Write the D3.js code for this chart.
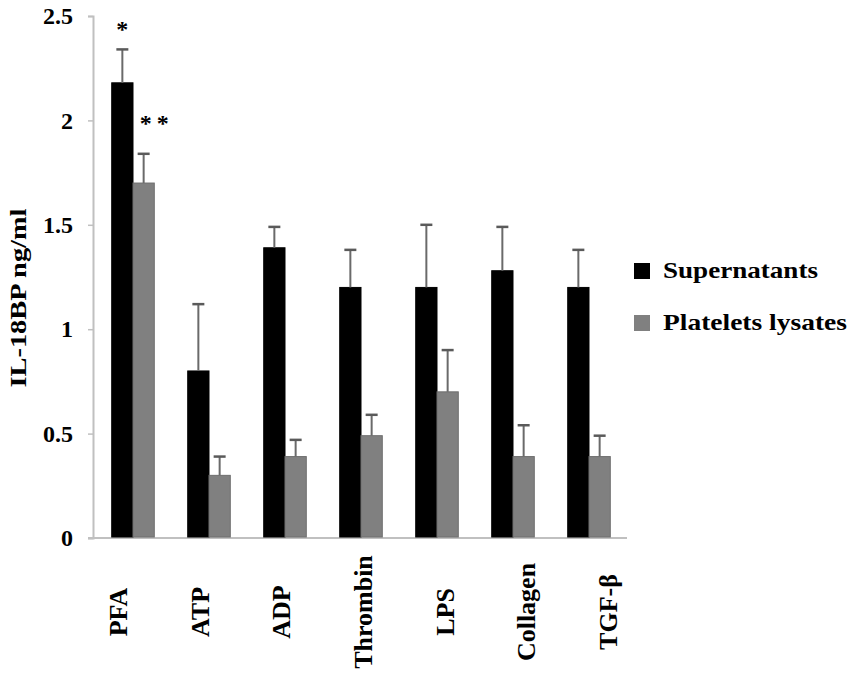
<!DOCTYPE html>
<html>
<head>
<meta charset="utf-8">
<script src="https://cdn.jsdelivr.net/npm/d3@7"></script>
<style>
  body { margin: 0; background: #fff; }
  svg text { font-family: "Times New Roman", "Liberation Serif", Tinos, Times, serif; font-weight: bold; fill: #000; }
</style>
</head>
<body>
<svg width="851" height="676"></svg>
<script>
// data
const categories = ['PFA', 'ATP', 'ADP', 'Thrombin', 'LPS', 'Collagen', 'TGF-β'];
const seriesNames = ['Supernatants', 'Platelets lysates'];
const supernatants = [2.18, 0.8, 1.39, 1.2, 1.2, 1.28, 1.2];
const supernatantsErr = [0.16, 0.32, 0.1, 0.18, 0.3, 0.21, 0.18];
const lysates = [1.7, 0.3, 0.39, 0.49, 0.7, 0.39, 0.39];
const lysatesErr = [0.14, 0.09, 0.08, 0.1, 0.2, 0.15, 0.1];
const yTicks = [0, 0.5, 1, 1.5, 2, 2.5];
const marks = [{ cat: 'PFA', series: 'Supernatants', label: '*' },
               { cat: 'PFA', series: 'Platelets lysates', label: '**' }];

const svg = d3.select('svg');
const colors = { 'Supernatants': '#000000', 'Platelets lysates': '#808080' };

// one row per category, values per series
const data = categories.map((c, i) => ({
    cat: c,
    values: [
        { series: 'Supernatants', value: supernatants[i], err: supernatantsErr[i] },
        { series: 'Platelets lysates', value: lysates[i], err: lysatesErr[i] }
    ]
}));

const yScale = d3.scaleLinear().domain([0, 2.5]).range([538, 16]);

const xScale = d3.scaleBand()
                 .domain(categories)
                 .range([95, 627])
                 .paddingInner(0.44)
                 .paddingOuter(0.22);

const sScale = d3.scaleBand()
                 .domain(seriesNames)
                 .range([0, xScale.bandwidth()]);

// the category labels sit on a slightly wider spacing than the bars
const labelScale = d3.scalePoint().domain(categories).range([127, 617]);

// y axis
const yAxis = d3.axisLeft(yScale).tickValues(yTicks).tickSize(5).tickFormat(d3.format('')).tickPadding(15);
const gy = svg.append('g').attr('transform', 'translate(93,0)').call(yAxis);
gy.attr('font-family', null).attr('font-size', null);
gy.select('.domain').attr('stroke', '#c0c0c0').attr('stroke-width', 2);
gy.selectAll('.tick line').attr('stroke', '#c0c0c0').attr('stroke-width', 1.5);
gy.selectAll('.tick text').attr('font-size', 24).attr('fill', '#000');

// baseline
svg.append('line')
   .attr('x1', 88).attr('x2', 627)
   .attr('y1', yScale(0)).attr('y2', yScale(0))
   .attr('stroke', '#c0c0c0').attr('stroke-width', 2);

// bars
const groups = svg.selectAll('g.group').data(data)
  .enter().append('g')
    .attr('class', 'group')
    .attr('transform', d => `translate(${xScale(d.cat)},0)`);

groups.selectAll('rect').data(d => d.values)
  .enter().append('rect')
    .attr('x', d => sScale(d.series))
    .attr('y', d => yScale(d.value))
    .attr('width', sScale.bandwidth())
    .attr('height', d => yScale(0) - yScale(d.value) - 1)
    .attr('fill', d => colors[d.series])
    .attr('stroke', d => d.series === 'Supernatants' ? '#000' : '#6e6e6e')
    .attr('stroke-width', 1);

// error bars (upper only)
const errs = groups.selectAll('g.err').data(d => d.values)
  .enter().append('g').attr('class', 'err');

errs.append('line')
    .attr('x1', d => sScale(d.series) + sScale.bandwidth() / 2)
    .attr('x2', d => sScale(d.series) + sScale.bandwidth() / 2)
    .attr('y1', d => yScale(d.value))
    .attr('y2', d => yScale(d.value + d.err))
    .attr('stroke', '#6a6a6a').attr('stroke-width', 2);

errs.append('line')
    .attr('x1', d => sScale(d.series) + sScale.bandwidth() / 2 - 6)
    .attr('x2', d => sScale(d.series) + sScale.bandwidth() / 2 + 6)
    .attr('y1', d => yScale(d.value + d.err))
    .attr('y2', d => yScale(d.value + d.err))
    .attr('stroke', '#5a5a5a').attr('stroke-width', 2.5);

// significance stars
svg.selectAll('text.star').data(marks)
  .enter().append('text')
    .attr('class', 'star')
    .attr('x', d => xScale(d.cat) + sScale(d.series) + sScale.bandwidth() / 2 + (d.label === '**' ? 13 : 0))
    .attr('y', d => d.label === '*' ? 37 : 131)
    .attr('text-anchor', 'middle')
    .attr('font-size', 24)
    .attr('letter-spacing', d => d.label === '**' ? 5 : 0)
    .text(d => d.label);

// category labels, rotated
svg.selectAll('text.cat').data(categories)
  .enter().append('text')
    .attr('class', 'cat')
    .attr('transform', d => `translate(${labelScale(d)},612) rotate(-90)`)
    .attr('text-anchor', 'middle')
    .attr('font-size', 26)
    .text(d => d);

// y axis title
svg.append('text')
   .attr('transform', 'translate(26,298) rotate(-90)')
   .attr('text-anchor', 'middle')
   .attr('font-size', 24)
   .attr('textLength', 179)
   .attr('lengthAdjust', 'spacingAndGlyphs')
   .text('IL-18BP  ng/ml');

// legend
const legend = svg.selectAll('g.legend').data(seriesNames)
  .enter().append('g')
    .attr('class', 'legend')
    .attr('transform', (d, i) => `translate(634,${263 + i * 52})`);

legend.append('rect')
      .attr('width', 16).attr('height', 16)
      .attr('fill', d => colors[d]);

legend.append('text')
      .attr('x', 29).attr('y', 15)
      .attr('font-size', 23)
      .attr('textLength', (d, i) => i === 0 ? 155 : 184)
      .attr('lengthAdjust', 'spacingAndGlyphs')
      .text(d => d);
</script>
</body>
</html>
